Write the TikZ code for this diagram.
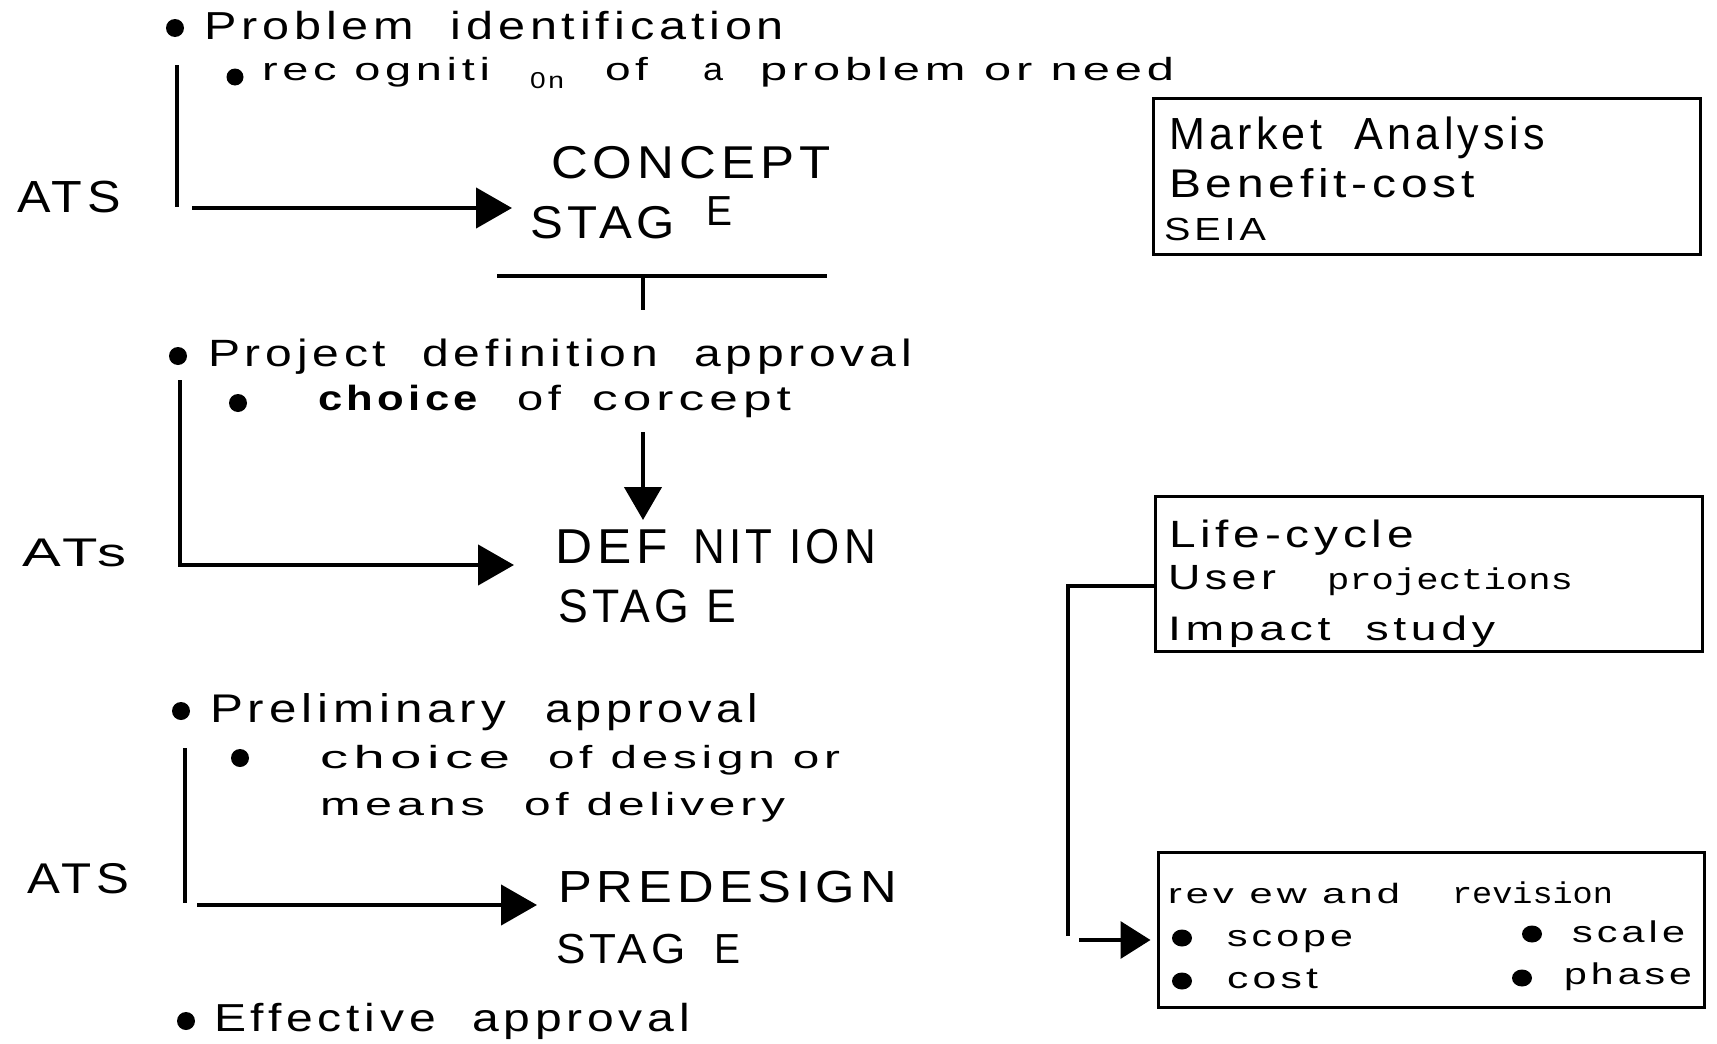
\documentclass[tikz,border=0pt]{standalone}
\usepackage{fontspec}
\usepackage{graphicx}
\setmainfont{Liberation Sans}[LetterSpace=10]
\newfontfamily\monofam{Liberation Mono}
\usetikzlibrary{arrows.meta,shapes.geometric}

% set #3 at #2 pt and stretch it to a width of #1 pt
\newcommand\fitw[3]{\resizebox{#1pt}{\height}{\fontsize{#2}{#2}\selectfont #3}}

\tikzset{
  txt/.style={anchor=base west, inner sep=0pt, outer sep=0pt},
  dot/.style={circle, fill=black, inner sep=0pt, minimum size=18pt},
  smalldot/.style={ellipse, fill=black, inner sep=0pt, minimum width=20pt, minimum height=17pt},
  rail/.style={line width=4.5pt},
  flow/.style={line width=4.5pt, -{Triangle[length=36pt,width=40pt]}},
  panel/.style={draw, line width=3pt, rectangle, inner sep=0pt},
}

\begin{document}
\begin{tikzpicture}[x=1pt,y=-1pt]
\useasboundingbox (0,0) rectangle (1717,1044);
\fill[white] (0,0) rectangle (1717,1044);

% ---------- concept stage ----------
\node[dot] (b1) at (175,28) {};
\node[txt] (t1) at (204,39) {\fitw{580}{39}{Problem\ \ identification}};
\node[dot, minimum size=17pt] (b2) at (235,77) {};
\node[txt] (t2a) at (262,80) {\fitw{228}{32}{rec ogniti}};
\node[txt] (t2b) at (530,88) {\fitw{34}{23}{0n}};
\node[txt] (t2c) at (605,80) {\fitw{43}{32}{of}};
\node[txt] (t2d) at (703,80) {\fitw{20}{32}{a}};
\node[txt] (t2e) at (760,80) {\fitw{414}{32}{problem or need}};

\node[txt] (ats1) at (17,212) {\fitw{104}{45}{ATS}};
\coordinate (v1a) at (177,65);
\coordinate (v1b) at (177,207);
\draw[rail] (v1a) -- (v1b);
\coordinate (a1s) at (192,208);
\coordinate (a1e) at (512,208);
\draw[flow] (a1s) -- (a1e);

\node[txt] (concept) at (551,178) {\fitw{280}{46}{CONCEPT}};
\node[txt] (stag1) at (530,238) {\fitw{145}{46}{STAG}};
\node[txt] (e1) at (706,225) {\fitw{26}{42}{E}};

\coordinate (barl) at (497,276);
\coordinate (barr) at (827,276);
\coordinate (barm) at (643,276);
\coordinate (barb) at (643,310);
\draw[rail] (barl) -- (barr);
\draw[rail] (barm) -- (barb);

% ---------- market box ----------
\node[panel, minimum width=547pt, minimum height=156pt] (box1) at (1426.5,176) {};
\node[txt] (m1) at (1169,149) {\fitw{376}{45}{Market\ \ Analysis}};
\node[txt] (m2) at (1169,197) {\fitw{306}{40}{Benefit-cost}};
\node[txt] (m3) at (1164,240) {\fitw{102}{32}{SEIA}};

% ---------- definition stage ----------
\node[dot] (b3) at (178,356) {};
\node[txt] (t3) at (208,366) {\fitw{704}{38}{Project\ \ definition\ \ approval}};
\node[dot] (b4) at (238,403) {};
\node[txt] (t4a) at (318,410) {\fitw{160}{35}{\bfseries choice}};
\node[txt] (t4b) at (517,410) {\fitw{44}{35}{of}};
\node[txt] (t4c) at (592,410) {\fitw{199}{35}{corcept}};

\node[txt] (ats2) at (22,566) {\fitw{104}{40}{ATs}};
\coordinate (v2a) at (180,380);
\coordinate (a2e) at (514,565);
\draw[flow] (v2a) |- (a2e);
\coordinate (d2s) at (643,432);
\coordinate (d2e) at (643,520);
\draw[line width=4.5pt, -{Triangle[length=33pt,width=37pt]}] (d2s) -- (d2e);

\node[txt] (def1) at (555,563) {\fitw{113}{49}{DEF}};
\node[txt] (def2) at (693,563) {\fitw{183}{49}{NIT ION}};
\node[txt] (stag2) at (558,622) {\fitw{178}{47}{STAG E}};

% ---------- predesign stage ----------
\node[dot] (b5) at (181,711) {};
\node[txt] (t5a) at (210,722) {\fitw{296}{40}{Preliminary}};
\node[txt] (t5b) at (545,722) {\fitw{213}{40}{approval}};
\node[dot] (b6) at (240,758) {};
\node[txt] (t6a) at (320,768) {\fitw{190}{32}{choice}};
\node[txt] (t6b) at (548,768) {\fitw{292}{32}{of design or}};
\node[txt] (t6c) at (320,815) {\fitw{165}{32}{means}};
\node[txt] (t6d) at (524,815) {\fitw{261}{32}{of delivery}};

\node[txt] (ats3) at (27,893) {\fitw{102}{43}{ATS}};
\coordinate (v3a) at (185,748);
\coordinate (v3b) at (185,903);
\draw[rail] (v3a) -- (v3b);
\coordinate (a3s) at (197,905);
\coordinate (a3e) at (537,905);
\draw[flow] (a3s) -- (a3e);

\node[txt] (pre) at (558,902) {\fitw{339}{45}{PREDESIGN}};
\node[txt] (stag3) at (556,963) {\fitw{130}{42}{STAG}};
\node[txt] (e3) at (714,963) {\fitw{26}{42}{E}};

\node[dot] (b7) at (186,1021) {};
\node[txt] (t7) at (214,1031) {\fitw{476}{39}{Effective\ \ approval}};

% ---------- life-cycle box ----------
\node[panel, minimum width=547pt, minimum height=155pt] (box2) at (1428.5,573.5) {};
\node[txt] (l1) at (1169,547) {\fitw{245}{38}{Life-cycle}};
\node[txt] (l2a) at (1168,589) {\fitw{108}{35}{User}};
\node[txt] (l2b) at (1327,589) {\fitw{246}{30}{\monofam projections}};
\node[txt] (l3) at (1168,640) {\fitw{327}{34}{Impact\ \ study}};

% ---------- review box ----------
\node[panel, minimum width=546pt, minimum height=155pt] (box3) at (1431,929.5) {};
\node[txt] (r1a) at (1168,903) {\fitw{232}{28}{rev ew and}};
\node[txt] (r1b) at (1452,903) {\fitw{161}{30}{\monofam revision}};
\node[smalldot] (b8) at (1182,938) {};
\node[txt] (r2) at (1227,946) {\fitw{126}{30}{scope}};
\node[smalldot] (b9) at (1182,981) {};
\node[txt] (r3) at (1227,988) {\fitw{91}{30}{cost}};
\node[smalldot] (b10) at (1532,934) {};
\node[txt] (r4) at (1572,942) {\fitw{113}{30}{scale}};
\node[smalldot] (b11) at (1522,978) {};
\node[txt] (r5) at (1564,984) {\fitw{128}{30}{phase}};

% feedback from the life-cycle box to the review box
\coordinate (fbc) at (1068,936);
\draw[line width=4pt] ([yshift=-12.5pt]box2.west) -| (fbc);
\coordinate (fbs) at (1079,940);
\draw[line width=3.5pt, -{Triangle[length=30pt,width=37pt]}] (fbs) -- ([yshift=-10.5pt,xshift=-6pt]box3.west);
\end{tikzpicture}
\end{document}
